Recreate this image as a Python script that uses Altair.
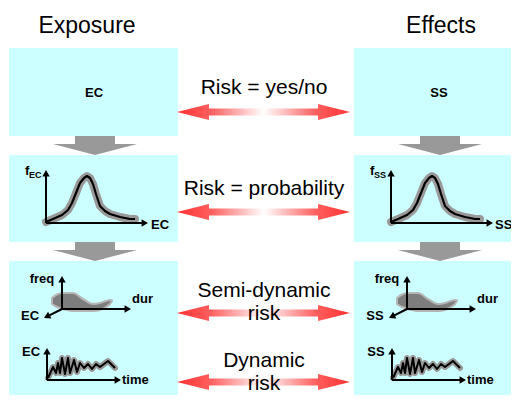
import math
import altair as alt
import pandas as pd

FONT = "Liberation Sans"
X_DOMAIN = [8, 511]
Y_DOMAIN = [8, 395]

# ---------------- content ----------------
header_text = ["Exposure", "Effects"]
header_x = [87, 441]
header_y = [33, 33]

column_var = ["EC", "SS"]
column_shift = [0, 345]

# cyan panels
panel_left = [9, 354]
panel_right = [178, 519]
panel_top = [48, 155, 261]
panel_bottom = [136, 242, 402]

# grey down arrows between panels
down_center = [95, 440]
down_shaft_top = [136, 242]
down_head_top = [144, 250]
down_tip = [155, 261]
down_shaft_half = 20
down_head_half = 42

# red double arrows
risk_arrow_y = [112, 212, 313, 382]
risk_arrow_x = [177, 350]
risk_head_len = 32
risk_head_half = 8
risk_shaft_half = 3.5

# middle labels
risk_text = ["Risk = yes/no", "Risk = probability", "Semi-dynamic", "risk", "Dynamic", "risk"]
risk_text_y = [94, 195, 297, 320, 367, 390]
risk_text_x = 264

# distribution curve (left column coordinates)
dist_x = [46, 53, 62, 68, 72, 76, 80, 84, 87, 90, 93, 96, 100, 105, 110, 120, 130, 135]
dist_y = [222, 219, 215, 210, 203, 193, 183, 178, 176, 178, 184, 194, 206, 211, 214, 217, 219, 219]
dist_origin = [46, 223]
dist_y_tip = 170
dist_x_tip = 148

# semi-dynamic blob
blob_x = [52, 57, 63, 73, 83, 93, 100, 106, 110, 112]
blob_top = [298, 294.5, 293, 293, 299, 304, 303, 301, 300, 300.5]
blob_bottom = [304, 307, 309, 311, 311, 311, 310, 307, 304, 301]
axes3d_origin = [62, 309]
axes3d_tips = [[62, 276], [131, 309], [44, 318]]

# dynamic time series
ts_x = [48, 53, 56, 58, 60, 62, 65, 68, 70, 74, 77, 80, 84, 88, 92, 96, 100, 104, 108, 111, 115]
ts_y = [378, 367, 373, 363, 373, 358, 374, 358, 373, 360, 372, 363, 368, 364, 369, 364, 367, 364, 361, 364, 368]
ts_origin = [47, 380]
ts_y_tip = 348
ts_x_tip = 121

# x-label of the distribution plot (left column / right column)
dist_xlabel_x = [151, 495]

# ---------------- build tables ----------------
panels = []
for c in range(2):
    for r in range(3):
        panels.append(dict(x=panel_left[c], x2=panel_right[c], y=panel_top[r], y2=panel_bottom[r]))
panels = pd.DataFrame(panels)

shafts, heads = [], []
for i, cx in enumerate(down_center):
    for j in range(2):
        shafts.append(dict(x=cx - down_shaft_half, x2=cx + down_shaft_half,
                           y=down_shaft_top[j], y2=down_head_top[j]))
        g = f"d{i}{j}"
        heads += [dict(g=g, x=cx - down_head_half, y=down_head_top[j], y2=down_head_top[j]),
                  dict(g=g, x=cx, y=down_head_top[j], y2=down_tip[j]),
                  dict(g=g, x=cx + down_head_half, y=down_head_top[j], y2=down_head_top[j])]
shafts = pd.DataFrame(shafts)
heads = pd.DataFrame(heads)

red = []
x0, x1 = risk_arrow_x
for k, yc in enumerate(risk_arrow_y):
    pts = [(x0, 0), (x0 + risk_head_len, risk_head_half), (x0 + risk_head_len + 0.05, risk_shaft_half),
           (x1 - risk_head_len - 0.05, risk_shaft_half), (x1 - risk_head_len, risk_head_half), (x1, 0)]
    for px, hh in pts:
        red.append(dict(g=k, x=px, y=yc - hh, y2=yc + hh))
red = pd.DataFrame(red)

headers = pd.DataFrame(dict(t=header_text, x=header_x, y=header_y))
mids = pd.DataFrame(dict(t=risk_text, x=[risk_text_x] * len(risk_text), y=risk_text_y))

curves, series, blobs, rules, tips, labels, subs, fs = [], [], [], [], [], [], [], []
for c in range(2):
    s = column_shift[c]
    v = column_var[c]
    for i, (px, py) in enumerate(zip(dist_x, dist_y)):
        curves.append(dict(g=c, o=i, x=px + s, y=py))
    for i, (px, py) in enumerate(zip(ts_x, ts_y)):
        series.append(dict(g=c, o=i, x=px + s, y=py))
    for px, t, b in zip(blob_x, blob_top, blob_bottom):
        blobs.append(dict(g=c, x=px + s, y=t, y2=b))
    axes = [(dist_origin, [dist_origin[0], dist_y_tip]),
            (dist_origin, [dist_x_tip, dist_origin[1]]),
            (ts_origin, [ts_origin[0], ts_y_tip]),
            (ts_origin, [ts_x_tip, ts_origin[1]])]
    axes += [(axes3d_origin, tp) for tp in axes3d_tips]
    for o, tp in axes:
        dx, dy = tp[0] - o[0], tp[1] - o[1]
        L = math.hypot(dx, dy)
        ux, uy = dx / L, dy / L
        hx, hy = tp[0] - 3.2 * ux, tp[1] - 3.2 * uy
        rules.append(dict(x=o[0] + s, y=o[1], x2=hx + s, y2=hy))
        ang = math.degrees(math.atan2(dy, dx)) % 360
        tips.append(dict(x=hx + s, y=hy, a=ang))
    labels += [dict(t=v, x=94 + s, y=97, al="center"),
               dict(t=v, x=dist_xlabel_x[c], y=229, al="left"),
               dict(t="freq", x=42 + s, y=283, al="center"),
               dict(t="dur", x=132 + s, y=303, al="left"),
               dict(t=v, x=30 + s, y=320, al="center"),
               dict(t=v, x=31 + s, y=356, al="center"),
               dict(t="time", x=122 + s, y=384, al="left")]
    fs.append(dict(t="f", x=25 + s, y=175))
    subs.append(dict(t=v, x=29 + s, y=178))

curves = pd.DataFrame(curves)
series = pd.DataFrame(series)
blobs = pd.DataFrame(blobs)
rules = pd.DataFrame(rules)
tips = pd.DataFrame(tips)
labels = pd.DataFrame(labels)
fs = pd.DataFrame(fs)
subs = pd.DataFrame(subs)

# ---------------- encodings ----------------
XS = alt.Scale(domain=X_DOMAIN, nice=False, zero=False)
YS = alt.Scale(domain=Y_DOMAIN, nice=False, zero=False, reverse=True)


def X(f="x"):
    return alt.X(f"{f}:Q", scale=XS, axis=None)


def Y(f="y"):
    return alt.Y(f"{f}:Q", scale=YS, axis=None)


panel_layer = alt.Chart(panels).mark_rect(color="#CCFFFF").encode(
    x=X(), x2="x2:Q", y=Y(), y2="y2:Q")
shaft_layer = alt.Chart(shafts).mark_rect(color="#999999").encode(
    x=X(), x2="x2:Q", y=Y(), y2="y2:Q")
head_layer = alt.Chart(heads).mark_area(color="#999999").encode(
    x=X(), y=Y(), y2="y2:Q", detail="g:N")

grad = alt.Gradient(
    gradient="linear",
    stops=[alt.GradientStop(color="#ff3030", offset=0),
           alt.GradientStop(color="#ff6060", offset=0.2),
           alt.GradientStop(color="#ffffff", offset=0.5),
           alt.GradientStop(color="#ff6060", offset=0.8),
           alt.GradientStop(color="#ff3030", offset=1)],
    x1=0, x2=1, y1=0, y2=0)
red_layer = alt.Chart(red).mark_area(fill=grad).encode(
    x=X(), y=Y(), y2="y2:Q", detail="g:N")

header_layer = alt.Chart(headers).mark_text(font=FONT, fontSize=23, color="black",
                                             baseline="alphabetic", align="center").encode(
    x=X(), y=Y(), text="t:N")
mid_layer = alt.Chart(mids).mark_text(font=FONT, fontSize=21, color="black",
                                       baseline="alphabetic", align="center").encode(
    x=X(), y=Y(), text="t:N")

curve_out = alt.Chart(curves).mark_line(color="#999999", strokeWidth=8, strokeCap="round",
                                        strokeJoin="round").encode(
    x=X(), y=Y(), detail="g:N", order="o:Q")
curve_in = alt.Chart(curves).mark_line(color="black", strokeWidth=2.2, strokeJoin="round").encode(
    x=X(), y=Y(), detail="g:N", order="o:Q")
ts_out = alt.Chart(series).mark_line(color="#999999", strokeWidth=6, strokeCap="round",
                                     strokeJoin="round").encode(
    x=X(), y=Y(), detail="g:N", order="o:Q")
ts_in = alt.Chart(series).mark_line(color="black", strokeWidth=2, strokeJoin="round").encode(
    x=X(), y=Y(), detail="g:N", order="o:Q")
blob_layer = alt.Chart(blobs).mark_area(fill="#7d7d7d", stroke="#b5b5b5", strokeWidth=2,
                                        interpolate="monotone").encode(
    x=X(), y=Y(), y2="y2:Q", detail="g:N")

rule_layer = alt.Chart(rules).mark_rule(color="black", strokeWidth=2).encode(
    x=X(), y=Y(), x2="x2:Q", y2="y2:Q")
tip_layer = alt.Chart(tips).mark_point(shape="triangle-right", filled=True, size=55,
                                       color="black", opacity=1).encode(
    x=X(), y=Y(), angle=alt.Angle("a:Q", scale=None))

label_layer_c = alt.Chart(labels[labels.al == "center"]).mark_text(
    font=FONT, fontSize=13, fontWeight="bold", color="black", baseline="alphabetic",
    align="center").encode(x=X(), y=Y(), text="t:N")
label_layer_l = alt.Chart(labels[labels.al == "left"]).mark_text(
    font=FONT, fontSize=13, fontWeight="bold", color="black", baseline="alphabetic",
    align="left").encode(x=X(), y=Y(), text="t:N")
f_layer = alt.Chart(fs).mark_text(font=FONT, fontSize=13, fontWeight="bold", color="black",
                                  baseline="alphabetic", align="left").encode(
    x=X(), y=Y(), text="t:N")
sub_layer = alt.Chart(subs).mark_text(font=FONT, fontSize=9, fontWeight="bold", color="black",
                                      baseline="alphabetic", align="left").encode(
    x=X(), y=Y(), text="t:N")

chart = alt.layer(
    panel_layer, shaft_layer, head_layer, red_layer, header_layer, mid_layer,
    curve_out, curve_in, blob_layer, ts_out, ts_in, rule_layer, tip_layer,
    label_layer_c, label_layer_l, f_layer, sub_layer,
).properties(
    width=503, height=387, padding=0, background="white",
    autosize=alt.AutoSizeParams(type="none"),
).configure_view(stroke=None)

chart.save("out.html", embed_options={"renderer": "svg", "actions": False})
